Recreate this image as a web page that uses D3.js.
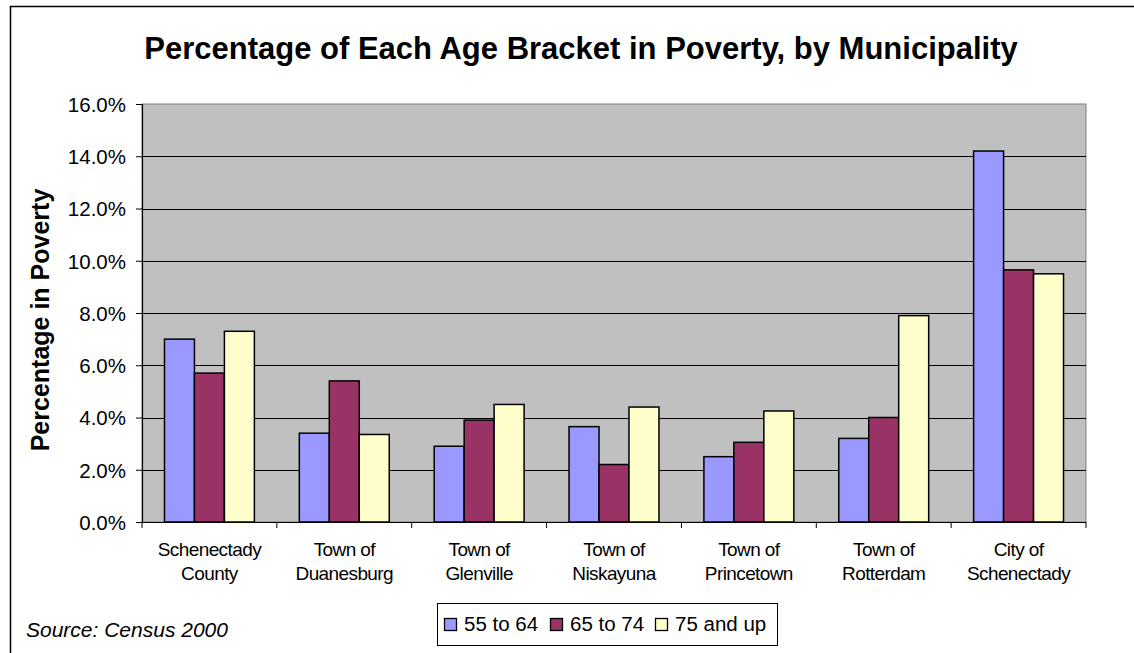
<!DOCTYPE html>
<html>
<head>
<meta charset="utf-8">
<script src="https://cdn.jsdelivr.net/npm/d3@7"></script>
<style>
  body { margin: 0; background: #fff; }
  text { font-family: Arial, "Liberation Sans", sans-serif; fill: #000; }
</style>
</head>
<body>
<div id="chart"></div>
<script>
const width = 1134;
const height = 653;

// data
const municipalities = [
  ["Schenectady", "County"],
  ["Town of", "Duanesburg"],
  ["Town of", "Glenville"],
  ["Town of", "Niskayuna"],
  ["Town of", "Princetown"],
  ["Town of", "Rotterdam"],
  ["City of", "Schenectady"]
];
const seriesNames = ["55 to 64", "65 to 74", "75 and up"];
const age55to64 = [7.0, 3.4, 2.9, 3.65, 2.5, 3.2, 14.2];
const age65to74 = [5.7, 5.4, 3.9, 2.2, 3.05, 4.0, 9.65];
const age75up = [7.3, 3.35, 4.5, 4.4, 4.25, 7.9, 9.5];
const yTicks = [0, 2, 4, 6, 8, 10, 12, 14, 16];

const seriesColors = ["#9999FF", "#993366", "#FFFFCC"];
const seriesValues = [age55to64, age65to74, age75up];

const plot = { left: 142, top: 104, right: 1086, bottom: 522 };

const svg = d3.select("#chart")
  .append("svg")
  .attr("width", width)
  .attr("height", height);

// outer chart frame (right / bottom run off the picture)
svg.append("rect")
  .attr("x", 10.5).attr("y", 6.5)
  .attr("width", width + 20).attr("height", height + 20)
  .attr("fill", "#fff")
  .attr("stroke", "#000")
  .attr("stroke-width", 1.5);

const x0 = d3.scaleBand()
  .domain(d3.range(municipalities.length))
  .range([plot.left, plot.right])
  .padding(0);

const x1 = d3.scaleBand()
  .domain(d3.range(seriesNames.length))
  .range([x0.bandwidth() / 6, x0.bandwidth() * 5 / 6])
  .padding(0);

const y = d3.scaleLinear()
  .domain([0, 16])
  .range([plot.bottom, plot.top]);

// plot background
svg.append("rect")
  .attr("x", plot.left).attr("y", plot.top)
  .attr("width", plot.right - plot.left)
  .attr("height", plot.bottom - plot.top)
  .attr("fill", "#C0C0C0")
  .attr("stroke", "#808080")
  .attr("stroke-width", 1);

// gridlines
svg.append("g")
  .selectAll("line")
  .data(yTicks.filter(d => d > 0 && d < 16))
  .join("line")
  .attr("x1", plot.left).attr("x2", plot.right)
  .attr("y1", d => Math.round(y(d)) + 0.5)
  .attr("y2", d => Math.round(y(d)) + 0.5)
  .attr("stroke", "#000")
  .attr("stroke-width", 1);

// bars
const groups = svg.append("g")
  .selectAll("g")
  .data(municipalities)
  .join("g")
  .attr("transform", (d, i) => `translate(${x0(i)},0)`);

groups.selectAll("rect")
  .data((d, i) => seriesValues.map((vals, s) => ({ s, v: vals[i] })))
  .join("rect")
  .attr("x", d => x1(d.s))
  .attr("y", d => y(d.v))
  .attr("width", x1.bandwidth())
  .attr("height", d => y(0) - y(d.v))
  .attr("fill", d => seriesColors[d.s])
  .attr("stroke", "#000")
  .attr("stroke-width", 1.5);

// y axis
const yAxis = svg.append("g")
  .attr("transform", `translate(${plot.left},0)`)
  .call(d3.axisLeft(y)
    .tickValues(yTicks)
    .tickSize(6)
    .tickPadding(10)
    .tickFormat(d => d.toFixed(1) + "%"));
yAxis.select(".domain").attr("stroke", "#000").attr("stroke-width", 1.2);
yAxis.selectAll("line").attr("stroke", "#000");
yAxis.selectAll("text")
  .style("font-size", "20.5px")
  .attr("dy", "0.36em")
  .attr("font-family", "Arial, 'Liberation Sans', sans-serif");

// x axis
const xAxis = svg.append("g")
  .attr("transform", `translate(0,${plot.bottom})`);
xAxis.append("line")
  .attr("x1", plot.left).attr("x2", plot.right)
  .attr("y1", 0.5).attr("y2", 0.5)
  .attr("stroke", "#000").attr("stroke-width", 1.2);
xAxis.selectAll("line.tick")
  .data(d3.range(municipalities.length + 1))
  .join("line")
  .attr("class", "tick")
  .attr("x1", d => d < municipalities.length ? x0(d) : plot.right)
  .attr("x2", d => d < municipalities.length ? x0(d) : plot.right)
  .attr("y1", 0).attr("y2", 6)
  .attr("stroke", "#000");

const xLabels = xAxis.selectAll("text")
  .data(municipalities)
  .join("text")
  .attr("x", (d, i) => x0(i) + x0.bandwidth() / 2)
  .attr("y", 34)
  .attr("text-anchor", "middle")
  .style("font-size", "19px")
  .style("letter-spacing", "-0.6px");
xLabels.selectAll("tspan")
  .data(d => d)
  .join("tspan")
  .attr("x", function () { return d3.select(this.parentNode).attr("x"); })
  .attr("dy", (d, i) => i === 0 ? 0 : 24)
  .text(d => d);

// titles
svg.append("text")
  .attr("x", 581).attr("y", 59)
  .attr("text-anchor", "middle")
  .style("font-size", "31px")
  .style("font-weight", "bold")
  .text("Percentage of Each Age Bracket in Poverty, by Municipality");

svg.append("text")
  .attr("transform", "translate(49,320) rotate(-90)")
  .attr("text-anchor", "middle")
  .style("font-size", "25px")
  .style("font-weight", "bold")
  .text("Percentage in Poverty");

svg.append("text")
  .attr("x", 26).attr("y", 637)
  .style("font-size", "21px")
  .style("font-style", "italic")
  .text("Source: Census 2000");

// legend
const legend = svg.append("g");
legend.append("rect")
  .attr("x", 437.5).attr("y", 603.5)
  .attr("width", 340).attr("height", 42)
  .attr("fill", "#fff")
  .attr("stroke", "#000")
  .attr("stroke-width", 1);

const legendX = [444, 550, 655];
const item = legend.selectAll("g.item")
  .data(seriesNames)
  .join("g")
  .attr("class", "item")
  .attr("transform", (d, i) => `translate(${legendX[i]},0)`);
item.append("rect")
  .attr("x", 0.5).attr("y", 618.5)
  .attr("width", 12).attr("height", 12)
  .attr("fill", (d, i) => seriesColors[i])
  .attr("stroke", "#000")
  .attr("stroke-width", 1.3);
item.append("text")
  .attr("x", 20).attr("y", 631)
  .style("font-size", "20.5px")
  .text(d => d);
</script>
</body>
</html>
